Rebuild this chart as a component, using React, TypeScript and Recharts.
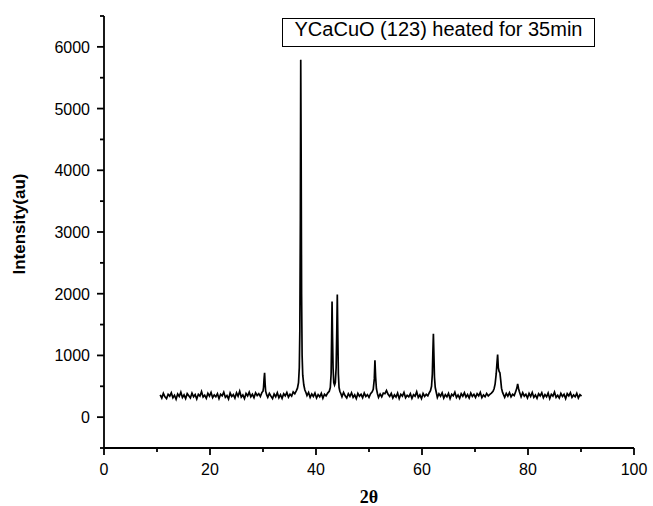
import React from 'react';
import { LineChart, Line, XAxis, YAxis, Label } from 'recharts';

// [2θ, intensity]
const pattern: [number, number][] = [
  // 10.6 – 29.8 background
  [10.6, 360], [10.9, 310], [11.2, 385], [11.5, 330], [11.8, 300], [12.1, 370], [12.4, 340], [12.7, 395],
  [13.0, 315], [13.3, 355], [13.6, 290], [13.9, 375], [14.2, 335], [14.5, 405], [14.8, 320], [15.1, 360],
  [15.4, 300], [15.7, 380], [16.0, 345], [16.3, 310], [16.6, 390], [16.9, 330], [17.2, 365], [17.5, 295],
  [17.8, 370], [18.1, 340], [18.4, 415], [18.7, 325], [19.0, 355], [19.3, 305], [19.6, 385], [19.9, 340],
  [20.2, 400], [20.5, 315], [20.8, 360], [21.1, 330], [21.4, 380], [21.7, 300], [22.0, 370], [22.3, 345],
  [22.6, 405], [22.9, 320], [23.2, 350], [23.5, 295], [23.8, 390], [24.1, 335], [24.4, 365], [24.7, 310],
  [25.0, 395], [25.3, 340], [25.6, 420], [25.9, 325], [26.2, 360], [26.5, 300], [26.8, 385], [27.1, 345],
  [27.4, 405], [27.7, 330], [28.0, 370], [28.3, 315], [28.6, 395], [28.9, 350], [29.2, 380], [29.5, 335],
  [29.8, 400],
  // peak ~30.3
  [30.0, 420], [30.1, 480], [30.2, 620], [30.3, 720], [30.4, 540], [30.5, 420], [30.7, 360],
  [30.9, 320], [31.2, 385], [31.5, 340], [31.8, 300], [32.1, 375], [32.4, 330], [32.7, 395], [33.0, 315],
  [33.3, 365], [33.6, 305], [33.9, 380], [34.2, 345], [34.5, 400], [34.8, 325], [35.1, 370], [35.4, 340],
  [35.7, 410], [36.0, 380], [36.3, 430],
  // main peak ~37.1
  [36.5, 470], [36.7, 560], [36.85, 800], [36.95, 1400], [37.05, 3200], [37.12, 5790], [37.2, 4200],
  [37.28, 2000], [37.38, 1000], [37.5, 680], [37.7, 520], [37.9, 440], [38.1, 400],
  [38.3, 350], [38.6, 400], [38.9, 320], [39.2, 375], [39.5, 335], [39.8, 390], [40.1, 310], [40.4, 365],
  [40.7, 330], [41.0, 385], [41.3, 305], [41.6, 370], [41.9, 345], [42.2, 390], [42.5, 420],
  // doublet ~43.0 / 44.0
  [42.7, 480], [42.85, 700], [42.95, 1300], [43.03, 1875], [43.12, 1300], [43.22, 800], [43.35, 560],
  [43.5, 520], [43.65, 560], [43.8, 800], [43.92, 1400], [44.02, 1988], [44.12, 1300], [44.22, 700],
  [44.35, 480], [44.5, 420], [44.7, 380],
  [44.9, 330], [45.2, 400], [45.5, 345], [45.8, 310], [46.1, 380], [46.4, 335], [46.7, 395], [47.0, 320],
  [47.3, 360], [47.6, 300], [47.9, 385], [48.2, 340], [48.5, 370], [48.8, 315], [49.1, 390], [49.4, 335],
  [49.7, 365], [50.0, 320], [50.3, 380], [50.6, 410],
  // peak ~51.2
  [50.8, 450], [51.0, 620], [51.12, 920], [51.25, 650], [51.4, 460], [51.6, 380],
  [51.8, 320], [52.1, 375], [52.4, 330], [52.7, 390], [53.0, 380], [53.3, 430], [53.6, 370], [53.9, 335],
  [54.2, 385], [54.5, 310], [54.8, 360], [55.1, 325], [55.4, 390], [55.7, 300], [56.0, 370], [56.3, 340],
  [56.6, 400], [56.9, 315], [57.2, 355], [57.5, 330], [57.8, 380], [58.1, 305], [58.4, 365], [58.7, 340],
  [59.0, 410], [59.3, 320], [59.6, 360], [59.9, 300], [60.2, 385], [60.5, 335], [60.8, 370], [61.1, 345],
  [61.4, 400], [61.6, 430],
  // peak ~62.2
  [61.8, 500], [61.95, 700], [62.05, 1050], [62.15, 1350], [62.25, 1000], [62.35, 650], [62.5, 480], [62.7, 400],
  [62.9, 320], [63.2, 380], [63.5, 340], [63.8, 395], [64.1, 310], [64.4, 365], [64.7, 330], [65.0, 385],
  [65.3, 300], [65.6, 370], [65.9, 345], [66.2, 405], [66.5, 320], [66.8, 360], [67.1, 305], [67.4, 380],
  [67.7, 340], [68.0, 395], [68.3, 325], [68.6, 365], [68.9, 310], [69.2, 390], [69.5, 335], [69.8, 370],
  [70.1, 320], [70.4, 380], [70.7, 345], [71.0, 400], [71.3, 315], [71.6, 360], [71.9, 330], [72.2, 385],
  [72.5, 345], [72.8, 370], [73.1, 390], [73.4, 420],
  // peak ~74.3 with shoulder
  [73.6, 460], [73.8, 540], [74.0, 700], [74.15, 880], [74.27, 1016], [74.4, 800], [74.55, 740], [74.7, 720],
  [74.85, 600], [75.0, 470], [75.2, 400], [75.4, 360],
  [75.6, 320], [75.9, 385], [76.2, 340], [76.5, 395], [76.8, 330], [77.1, 370], [77.4, 350], [77.7, 420],
  // small peak ~78.1
  [77.9, 470], [78.05, 540], [78.2, 470], [78.35, 420], [78.5, 380],
  [78.7, 330], [79.0, 395], [79.3, 340], [79.6, 370], [79.9, 310], [80.2, 385], [80.5, 335], [80.8, 400],
  [81.1, 320], [81.4, 360], [81.7, 305], [82.0, 380], [82.3, 345], [82.6, 395], [82.9, 315], [83.2, 365],
  [83.5, 330], [83.8, 390], [84.1, 300], [84.4, 370], [84.7, 340], [85.0, 405], [85.3, 320], [85.6, 355],
  [85.9, 310], [86.2, 385], [86.5, 335], [86.8, 370], [87.1, 300], [87.4, 380], [87.7, 345], [88.0, 395],
  [88.3, 320], [88.6, 360], [88.9, 330], [89.2, 385], [89.5, 310], [89.8, 365], [90.1, 340],
];

const xTicks = [0, 10, 20, 30, 40, 50, 60, 70, 80, 90, 100];
const yTicks = [-500, 0, 500, 1000, 1500, 2000, 2500, 3000, 3500, 4000, 4500, 5000, 5500, 6000, 6500];

const legendText = 'YCaCuO (123) heated for 35min';

const FONT = '"Liberation Sans", Arial, Helvetica, sans-serif';

const data = pattern.map(([angle, counts]) => ({ angle, counts }));

const XTick = (props: any) => {
  const { x, y, payload } = props;
  const major = payload.value % 20 === 0;
  return (
    <g>
      <line x1={x} x2={x} y1={y} y2={y + (major ? 7 : 4)} stroke="#000" strokeWidth={1.8} />
      {major && (
        <text x={x} y={y + 27} textAnchor="middle" fontFamily={FONT} fontSize={16} fill="#000">
          {payload.value}
        </text>
      )}
    </g>
  );
};

const YTick = (props: any) => {
  const { x, y, payload } = props;
  const major = payload.value % 1000 === 0;
  return (
    <g>
      <line x1={x - (major ? 7 : 4)} x2={x} y1={y} y2={y} stroke="#000" strokeWidth={1.8} />
      {major && (
        <text x={x - 14} y={y + 6} textAnchor="end" fontFamily={FONT} fontSize={16} fill="#000">
          {payload.value}
        </text>
      )}
    </g>
  );
};

export default function App() {
  return (
    <div style={{ position: 'absolute', left: 0, top: 0, width: 653, height: 506, background: '#fff' }}>
      <LineChart width={653} height={506} data={data} margin={{ top: 16, right: 19, bottom: 0, left: 0 }}>
        <XAxis
          dataKey="angle"
          type="number"
          domain={[0, 100]}
          ticks={xTicks}
          interval={0}
          height={58}
          tickSize={0}
          tickMargin={0}
          tickLine={false}
          axisLine={{ stroke: '#000', strokeWidth: 1.8 }}
          tick={<XTick />}
        >
          <Label
            content={(p: any) => {
              const vb = p.viewBox;
              return (
                <text
                  x={vb.x + vb.width / 2}
                  y={vb.y + 55}
                  textAnchor="middle"
                  fontFamily='"Liberation Serif", "Times New Roman", serif'
                  fontWeight="bold"
                  fontSize={18}
                  fill="#000"
                >
                  2θ
                </text>
              );
            }}
          />
        </XAxis>
        <YAxis
          type="number"
          domain={[-500, 6500]}
          ticks={yTicks}
          interval={0}
          width={104}
          tickSize={0}
          tickMargin={0}
          tickLine={false}
          axisLine={{ stroke: '#000', strokeWidth: 1.8 }}
          tick={<YTick />}
        >
          <Label
            content={(p: any) => {
              const vb = p.viewBox;
              const cx = 19;
              const cy = vb.y + vb.height / 2 - 8;
              return (
                <text
                  x={cx}
                  y={cy}
                  transform={`rotate(-90 ${cx} ${cy})`}
                  textAnchor="middle"
                  dominantBaseline="central"
                  fontFamily={FONT}
                  fontWeight="bold"
                  fontSize={17}
                  fill="#000"
                >
                  Intensity(au)
                </text>
              );
            }}
          />
        </YAxis>
        <Line
          type="linear"
          dataKey="counts"
          stroke="#000"
          strokeWidth={1.7}
          strokeLinejoin="miter"
          dot={false}
          isAnimationActive={false}
        />
      </LineChart>
      <div
        style={{
          position: 'absolute',
          left: 282,
          top: 18,
          width: 313,
          height: 29,
          boxSizing: 'border-box',
          border: '1px solid #000',
          fontFamily: FONT,
          fontSize: 20,
          lineHeight: '21px',
          textAlign: 'center',
          color: '#000',
          background: '#fff',
        }}
      >
        {legendText}
      </div>
    </div>
  );
}
